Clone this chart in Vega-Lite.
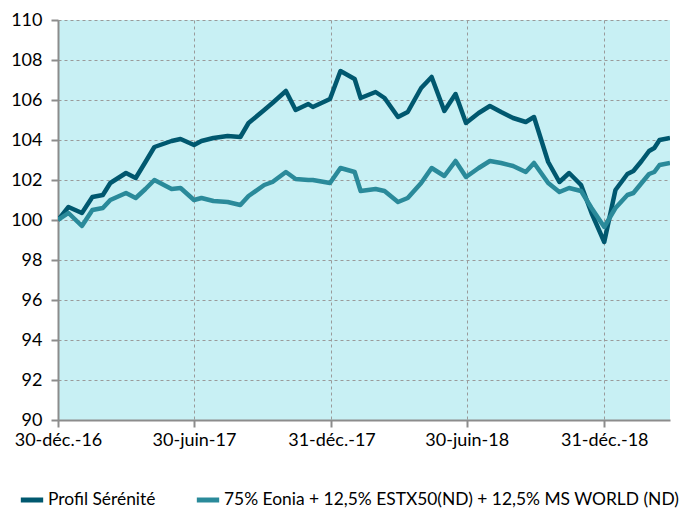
{
  "$schema": "https://vega.github.io/schema/vega-lite/v6.json",
  "autosize": "none",
  "padding": {"left": 58, "top": 20, "right": 17, "bottom": 90},
  "width": 612,
  "height": 400,
  "background": "white",
  "config": {
    "font": "Lato",
    "view": {"stroke": null, "fill": "#C8F0F4"},
    "axis": {"labelFont": "Lato", "labelFontSize": 18, "labelColor": "#000000", "domainColor": "#8C8C8C", "domainWidth": 2, "tickColor": "#8C8C8C", "tickWidth": 2, "tickSize": 7, "gridColor": "#9A9A9A", "gridDash": [3, 3], "gridWidth": 1, "title": null},
    "legend": {"labelFont": "Lato", "labelFontSize": 17.4, "labelColor": "#000000", "labelLimit": 0}
  },
  "data": {"values": [
    {"d":"2016-12-30","s":"Profil Sérénité","v":100.0},
    {"d":"2017-01-13","s":"Profil Sérénité","v":100.65},
    {"d":"2017-01-31","s":"Profil Sérénité","v":100.35},
    {"d":"2017-02-14","s":"Profil Sérénité","v":101.15},
    {"d":"2017-02-28","s":"Profil Sérénité","v":101.25},
    {"d":"2017-03-10","s":"Profil Sérénité","v":101.85},
    {"d":"2017-03-31","s":"Profil Sérénité","v":102.35},
    {"d":"2017-04-13","s":"Profil Sérénité","v":102.1},
    {"d":"2017-04-26","s":"Profil Sérénité","v":102.9},
    {"d":"2017-05-08","s":"Profil Sérénité","v":103.65},
    {"d":"2017-05-31","s":"Profil Sérénité","v":103.95},
    {"d":"2017-06-12","s":"Profil Sérénité","v":104.05},
    {"d":"2017-06-30","s":"Profil Sérénité","v":103.75},
    {"d":"2017-07-10","s":"Profil Sérénité","v":103.95},
    {"d":"2017-07-26","s":"Profil Sérénité","v":104.1},
    {"d":"2017-08-14","s":"Profil Sérénité","v":104.2},
    {"d":"2017-08-31","s":"Profil Sérénité","v":104.15},
    {"d":"2017-09-11","s":"Profil Sérénité","v":104.85},
    {"d":"2017-10-02","s":"Profil Sérénité","v":105.5},
    {"d":"2017-10-13","s":"Profil Sérénité","v":105.85},
    {"d":"2017-10-31","s":"Profil Sérénité","v":106.45},
    {"d":"2017-11-13","s":"Profil Sérénité","v":105.5},
    {"d":"2017-11-30","s":"Profil Sérénité","v":105.8},
    {"d":"2017-12-06","s":"Profil Sérénité","v":105.65},
    {"d":"2017-12-29","s":"Profil Sérénité","v":106.05},
    {"d":"2018-01-12","s":"Profil Sérénité","v":107.45},
    {"d":"2018-01-31","s":"Profil Sérénité","v":107.05},
    {"d":"2018-02-08","s":"Profil Sérénité","v":106.1},
    {"d":"2018-02-28","s":"Profil Sérénité","v":106.4},
    {"d":"2018-03-12","s":"Profil Sérénité","v":106.1},
    {"d":"2018-03-30","s":"Profil Sérénité","v":105.15},
    {"d":"2018-04-12","s":"Profil Sérénité","v":105.4},
    {"d":"2018-04-30","s":"Profil Sérénité","v":106.6},
    {"d":"2018-05-14","s":"Profil Sérénité","v":107.15},
    {"d":"2018-05-31","s":"Profil Sérénité","v":105.45},
    {"d":"2018-06-15","s":"Profil Sérénité","v":106.3},
    {"d":"2018-06-29","s":"Profil Sérénité","v":104.85},
    {"d":"2018-07-16","s":"Profil Sérénité","v":105.35},
    {"d":"2018-07-31","s":"Profil Sérénité","v":105.7},
    {"d":"2018-08-15","s":"Profil Sérénité","v":105.4},
    {"d":"2018-08-31","s":"Profil Sérénité","v":105.1},
    {"d":"2018-09-17","s":"Profil Sérénité","v":104.9},
    {"d":"2018-09-28","s":"Profil Sérénité","v":105.15},
    {"d":"2018-10-17","s":"Profil Sérénité","v":102.9},
    {"d":"2018-11-01","s":"Profil Sérénité","v":101.9},
    {"d":"2018-11-14","s":"Profil Sérénité","v":102.35},
    {"d":"2018-11-30","s":"Profil Sérénité","v":101.75},
    {"d":"2018-12-14","s":"Profil Sérénité","v":100.35},
    {"d":"2018-12-31","s":"Profil Sérénité","v":98.9},
    {"d":"2019-01-15","s":"Profil Sérénité","v":101.5},
    {"d":"2019-01-31","s":"Profil Sérénité","v":102.3},
    {"d":"2019-02-08","s":"Profil Sérénité","v":102.45},
    {"d":"2019-02-19","s":"Profil Sérénité","v":102.95},
    {"d":"2019-03-01","s":"Profil Sérénité","v":103.45},
    {"d":"2019-03-08","s":"Profil Sérénité","v":103.6},
    {"d":"2019-03-15","s":"Profil Sérénité","v":104.0},
    {"d":"2019-03-29","s":"Profil Sérénité","v":104.1},
    {"d":"2016-12-30","s":"75% Eonia + 12,5% ESTX50(ND) + 12,5% MS WORLD (ND)","v":100.0},
    {"d":"2017-01-13","s":"75% Eonia + 12,5% ESTX50(ND) + 12,5% MS WORLD (ND)","v":100.35},
    {"d":"2017-01-31","s":"75% Eonia + 12,5% ESTX50(ND) + 12,5% MS WORLD (ND)","v":99.7},
    {"d":"2017-02-14","s":"75% Eonia + 12,5% ESTX50(ND) + 12,5% MS WORLD (ND)","v":100.5},
    {"d":"2017-02-28","s":"75% Eonia + 12,5% ESTX50(ND) + 12,5% MS WORLD (ND)","v":100.6},
    {"d":"2017-03-10","s":"75% Eonia + 12,5% ESTX50(ND) + 12,5% MS WORLD (ND)","v":101.0},
    {"d":"2017-03-31","s":"75% Eonia + 12,5% ESTX50(ND) + 12,5% MS WORLD (ND)","v":101.35},
    {"d":"2017-04-13","s":"75% Eonia + 12,5% ESTX50(ND) + 12,5% MS WORLD (ND)","v":101.1},
    {"d":"2017-04-26","s":"75% Eonia + 12,5% ESTX50(ND) + 12,5% MS WORLD (ND)","v":101.55},
    {"d":"2017-05-08","s":"75% Eonia + 12,5% ESTX50(ND) + 12,5% MS WORLD (ND)","v":102.0},
    {"d":"2017-05-31","s":"75% Eonia + 12,5% ESTX50(ND) + 12,5% MS WORLD (ND)","v":101.55},
    {"d":"2017-06-12","s":"75% Eonia + 12,5% ESTX50(ND) + 12,5% MS WORLD (ND)","v":101.6},
    {"d":"2017-06-30","s":"75% Eonia + 12,5% ESTX50(ND) + 12,5% MS WORLD (ND)","v":101.0},
    {"d":"2017-07-10","s":"75% Eonia + 12,5% ESTX50(ND) + 12,5% MS WORLD (ND)","v":101.1},
    {"d":"2017-07-26","s":"75% Eonia + 12,5% ESTX50(ND) + 12,5% MS WORLD (ND)","v":100.95},
    {"d":"2017-08-14","s":"75% Eonia + 12,5% ESTX50(ND) + 12,5% MS WORLD (ND)","v":100.9},
    {"d":"2017-08-31","s":"75% Eonia + 12,5% ESTX50(ND) + 12,5% MS WORLD (ND)","v":100.75},
    {"d":"2017-09-11","s":"75% Eonia + 12,5% ESTX50(ND) + 12,5% MS WORLD (ND)","v":101.2},
    {"d":"2017-10-02","s":"75% Eonia + 12,5% ESTX50(ND) + 12,5% MS WORLD (ND)","v":101.75},
    {"d":"2017-10-13","s":"75% Eonia + 12,5% ESTX50(ND) + 12,5% MS WORLD (ND)","v":101.9},
    {"d":"2017-10-31","s":"75% Eonia + 12,5% ESTX50(ND) + 12,5% MS WORLD (ND)","v":102.4},
    {"d":"2017-11-13","s":"75% Eonia + 12,5% ESTX50(ND) + 12,5% MS WORLD (ND)","v":102.05},
    {"d":"2017-11-30","s":"75% Eonia + 12,5% ESTX50(ND) + 12,5% MS WORLD (ND)","v":102.0},
    {"d":"2017-12-06","s":"75% Eonia + 12,5% ESTX50(ND) + 12,5% MS WORLD (ND)","v":102.0},
    {"d":"2017-12-29","s":"75% Eonia + 12,5% ESTX50(ND) + 12,5% MS WORLD (ND)","v":101.85},
    {"d":"2018-01-12","s":"75% Eonia + 12,5% ESTX50(ND) + 12,5% MS WORLD (ND)","v":102.6},
    {"d":"2018-01-31","s":"75% Eonia + 12,5% ESTX50(ND) + 12,5% MS WORLD (ND)","v":102.4},
    {"d":"2018-02-08","s":"75% Eonia + 12,5% ESTX50(ND) + 12,5% MS WORLD (ND)","v":101.45},
    {"d":"2018-02-28","s":"75% Eonia + 12,5% ESTX50(ND) + 12,5% MS WORLD (ND)","v":101.55},
    {"d":"2018-03-12","s":"75% Eonia + 12,5% ESTX50(ND) + 12,5% MS WORLD (ND)","v":101.45},
    {"d":"2018-03-30","s":"75% Eonia + 12,5% ESTX50(ND) + 12,5% MS WORLD (ND)","v":100.9},
    {"d":"2018-04-12","s":"75% Eonia + 12,5% ESTX50(ND) + 12,5% MS WORLD (ND)","v":101.1},
    {"d":"2018-04-30","s":"75% Eonia + 12,5% ESTX50(ND) + 12,5% MS WORLD (ND)","v":101.85},
    {"d":"2018-05-14","s":"75% Eonia + 12,5% ESTX50(ND) + 12,5% MS WORLD (ND)","v":102.6},
    {"d":"2018-05-31","s":"75% Eonia + 12,5% ESTX50(ND) + 12,5% MS WORLD (ND)","v":102.2},
    {"d":"2018-06-15","s":"75% Eonia + 12,5% ESTX50(ND) + 12,5% MS WORLD (ND)","v":102.95},
    {"d":"2018-06-29","s":"75% Eonia + 12,5% ESTX50(ND) + 12,5% MS WORLD (ND)","v":102.15},
    {"d":"2018-07-16","s":"75% Eonia + 12,5% ESTX50(ND) + 12,5% MS WORLD (ND)","v":102.6},
    {"d":"2018-07-31","s":"75% Eonia + 12,5% ESTX50(ND) + 12,5% MS WORLD (ND)","v":102.95},
    {"d":"2018-08-15","s":"75% Eonia + 12,5% ESTX50(ND) + 12,5% MS WORLD (ND)","v":102.85},
    {"d":"2018-08-31","s":"75% Eonia + 12,5% ESTX50(ND) + 12,5% MS WORLD (ND)","v":102.7},
    {"d":"2018-09-17","s":"75% Eonia + 12,5% ESTX50(ND) + 12,5% MS WORLD (ND)","v":102.4},
    {"d":"2018-09-28","s":"75% Eonia + 12,5% ESTX50(ND) + 12,5% MS WORLD (ND)","v":102.85},
    {"d":"2018-10-17","s":"75% Eonia + 12,5% ESTX50(ND) + 12,5% MS WORLD (ND)","v":101.85},
    {"d":"2018-11-01","s":"75% Eonia + 12,5% ESTX50(ND) + 12,5% MS WORLD (ND)","v":101.4},
    {"d":"2018-11-14","s":"75% Eonia + 12,5% ESTX50(ND) + 12,5% MS WORLD (ND)","v":101.6},
    {"d":"2018-11-30","s":"75% Eonia + 12,5% ESTX50(ND) + 12,5% MS WORLD (ND)","v":101.45},
    {"d":"2018-12-14","s":"75% Eonia + 12,5% ESTX50(ND) + 12,5% MS WORLD (ND)","v":100.6},
    {"d":"2018-12-31","s":"75% Eonia + 12,5% ESTX50(ND) + 12,5% MS WORLD (ND)","v":99.65},
    {"d":"2019-01-15","s":"75% Eonia + 12,5% ESTX50(ND) + 12,5% MS WORLD (ND)","v":100.6},
    {"d":"2019-01-31","s":"75% Eonia + 12,5% ESTX50(ND) + 12,5% MS WORLD (ND)","v":101.25},
    {"d":"2019-02-08","s":"75% Eonia + 12,5% ESTX50(ND) + 12,5% MS WORLD (ND)","v":101.35},
    {"d":"2019-02-19","s":"75% Eonia + 12,5% ESTX50(ND) + 12,5% MS WORLD (ND)","v":101.85},
    {"d":"2019-03-01","s":"75% Eonia + 12,5% ESTX50(ND) + 12,5% MS WORLD (ND)","v":102.3},
    {"d":"2019-03-08","s":"75% Eonia + 12,5% ESTX50(ND) + 12,5% MS WORLD (ND)","v":102.4},
    {"d":"2019-03-15","s":"75% Eonia + 12,5% ESTX50(ND) + 12,5% MS WORLD (ND)","v":102.75},
    {"d":"2019-03-29","s":"75% Eonia + 12,5% ESTX50(ND) + 12,5% MS WORLD (ND)","v":102.85}
  ]},
  "mark": {"type": "line", "strokeWidth": 4.5, "strokeJoin": "round", "clip": true},
  "encoding": {
    "x": {
      "field": "d", "type": "temporal",
      "scale": {"type": "utc", "domain": [{"year": 2016, "month": 12, "date": 30, "utc": true}, {"year": 2019, "month": 3, "date": 29, "utc": true}], "nice": false},
      "axis": {
        "values": [
          {"year": 2016, "month": 12, "date": 30, "utc": true},
          {"year": 2017, "month": 6, "date": 30, "utc": true},
          {"year": 2017, "month": 12, "date": 31, "utc": true},
          {"year": 2018, "month": 6, "date": 30, "utc": true},
          {"year": 2018, "month": 12, "date": 31, "utc": true}
        ],
        "labelExpr": "utcFormat(datum.value, '%d') + '-' + (utcmonth(datum.value) == 11 ? 'déc.' : 'juin') + '-' + utcFormat(datum.value, '%y')",
        "labelPadding": 4,
        "labelFlush": false,
        "grid": true
      }
    },
    "y": {
      "field": "v", "type": "quantitative",
      "scale": {"domain": [90, 110], "nice": false, "zero": false},
      "axis": {"values": [90, 92, 94, 96, 98, 100, 102, 104, 106, 108, 110], "labelPadding": 9, "grid": true}
    },
    "color": {
      "field": "s", "type": "nominal",
      "scale": {"domain": ["Profil Sérénité", "75% Eonia + 12,5% ESTX50(ND) + 12,5% MS WORLD (ND)"], "range": ["#00586F", "#2A8A9A"]},
      "legend": {"title": null, "orient": "none", "legendX": -40, "legendY": 466, "direction": "horizontal", "symbolType": "stroke", "symbolSize": 500, "symbolStrokeWidth": 5, "labelOffset": 2, "columnPadding": 30, "labelLimit": 0}
    }
  }
}
